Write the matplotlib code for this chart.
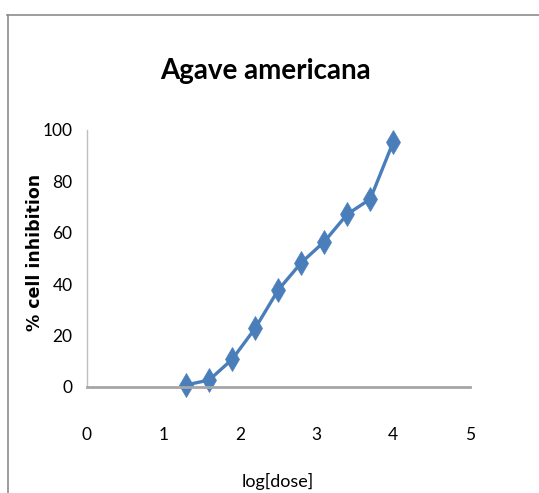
import matplotlib
matplotlib.use('Agg')
import matplotlib.pyplot as plt
from matplotlib.lines import Line2D

log_dose = [1.3, 1.6, 1.9, 2.2, 2.5, 2.8, 3.1, 3.4, 3.7, 4.0]
inhibition = [0.7, 2.6, 10.7, 22.8, 37.7, 48.3, 56.5, 67.2, 73.1, 95.4]
x_ticks = [0, 1, 2, 3, 4, 5]
y_ticks = [0, 20, 40, 60, 80, 100]

narrow = ['Lato', 'DejaVu Sans']

fig = plt.figure(figsize=(5.39, 4.93), dpi=100)

# outer chart frame (top and left edges visible)
fig.add_artist(Line2D([7 / 539, 1.0], [1 - 14.5 / 493, 1 - 14.5 / 493],
                      color='#8c8c8c', lw=1.2, transform=fig.transFigure))
fig.add_artist(Line2D([7.5 / 539, 7.5 / 539], [0, 1 - 14.5 / 493],
                      color='#8c8c8c', lw=1.2, transform=fig.transFigure))

ax = fig.add_axes([86.5 / 539, 1 - 386.7 / 493, 383.5 / 539, 256.7 / 493])
ax.plot(log_dose, inhibition, color='#4a7ebb', lw=2.4, marker='d',
        markersize=12, markeredgewidth=0.5, clip_on=False)

ax.set_xlim(0, 5)
ax.set_ylim(0, 100)
ax.set_xticks(x_ticks)
ax.set_yticks(y_ticks)
ax.tick_params(length=0, labelsize=12.5)
ax.tick_params(axis='x', pad=29)
ax.tick_params(axis='y', pad=10)
for lab in ax.get_xticklabels() + ax.get_yticklabels():
    lab.set_family(narrow)

ax.spines['top'].set_visible(False)
ax.spines['right'].set_visible(False)
ax.spines['left'].set_color('#bfbfbf')
ax.spines['left'].set_linewidth(1.0)
ax.spines['bottom'].set_color('#a6a6a6')
ax.spines['bottom'].set_linewidth(2.0)

fig.text(265 / 539, 1 - 71 / 493, 'Agave americana', ha='center', va='center',
         fontsize=20, fontweight='bold', family=narrow)
fig.text(35 / 539, 1 - 252 / 493, '% cell inhibition', rotation=90,
         ha='center', va='center', fontsize=12.5, fontweight='bold',
         family=['DejaVu Sans'])
fig.text(278 / 539, 1 - 481 / 493, 'log[dose]', ha='center', va='center',
         fontsize=13, family=narrow)

fig.savefig('out.png', dpi=100)
